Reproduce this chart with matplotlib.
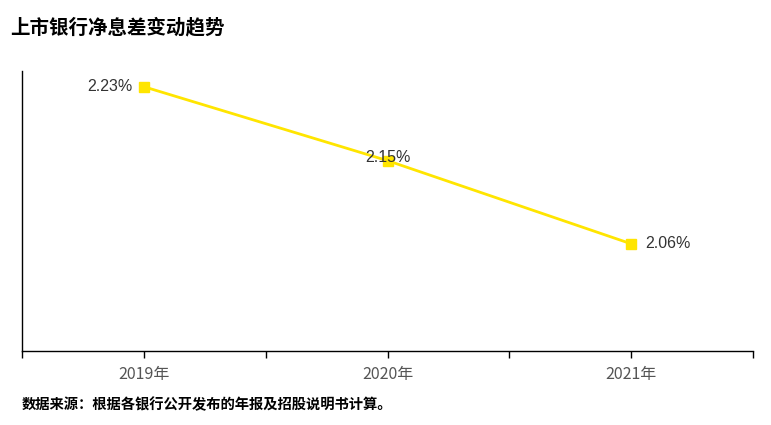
import matplotlib.pyplot as plt

plt.rcParams['font.family'] = ['Noto Sans CJK SC', 'DejaVu Sans']

# Data
years = ['2019年', '2020年', '2021年']
nim = [2.23, 2.15, 2.06]
labels = ['2.23%', '2.15%', '2.06%']


def graph_data():
    fig = plt.figure(figsize=(7.71, 4.25), dpi=100)
    ax = fig.add_axes([22 / 771, 1 - 351 / 425, (753 - 22) / 771, (351 - 71) / 425])

    x = list(range(len(years)))
    ax.plot(x, nim, color='#FFE500', linewidth=2, marker='s', markersize=7)

    # Value labels: left, centre, right as in the reference
    offsets = [(-8, 0, 'right', 'center'), (0, 2, 'center', 'center'), (10, 0, 'left', 'center')]
    for xi, v, lab, (dx, dy, ha, va) in zip(x, nim, labels, offsets):
        ax.annotate(lab, (xi, v), xytext=(dx, dy), textcoords='offset points',
                    ha=ha, va=va, fontsize=11.5, color='#333333',
                    family=['Liberation Sans', 'DejaVu Sans'])

    ax.set_xlim(-0.5, 2.5)
    ax.set_ylim(1.944, 2.247)

    ax.set_xticks([-0.5, 0.5, 1.5, 2.5])
    ax.set_xticks(x, minor=True)
    ax.set_xticklabels([], minor=False)
    ax.set_xticklabels(years, minor=True)
    ax.tick_params(axis='x', which='both', length=5, width=1, color='black',
                   direction='out', labelsize=11.5, labelcolor='#555555', pad=6)
    ax.set_yticks([])

    for s in ['top', 'right']:
        ax.spines[s].set_visible(False)
    for s in ['left', 'bottom']:
        ax.spines[s].set_color('black')
        ax.spines[s].set_linewidth(1)

    fig.text(10 / 771, 1 - 28 / 425, '上市银行净息差变动趋势', fontsize=14,
             fontweight='bold', ha='left', va='center', color='black')
    fig.text(22 / 771, 1 - 405 / 425, '数据来源：根据各银行公开发布的年报及招股说明书计算。',
             fontsize=10.3, fontweight='bold', ha='left', va='center', color='black')

    fig.savefig('out.png', dpi=100)


if __name__ == '__main__':
    graph_data()
